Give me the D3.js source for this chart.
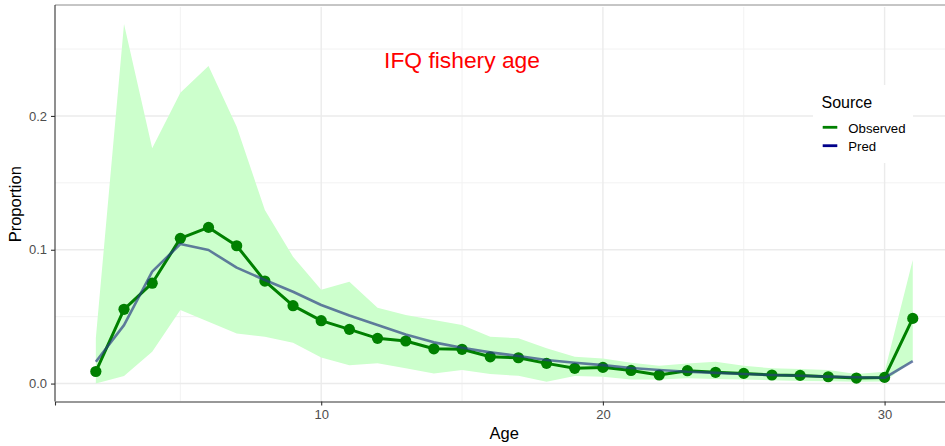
<!DOCTYPE html>
<html>
<head>
<meta charset="utf-8">
<script src="https://cdn.jsdelivr.net/npm/d3@7"></script>
<style>
  html, body { margin: 0; padding: 0; background: #fff; }
  svg { display: block; font-family: "Liberation Sans", Arial, sans-serif; }
</style>
</head>
<body>
<svg id="chart" width="945" height="446"></svg>
<script>
// Age composition, IFQ fishery
const ages = [2,3,4,5,6,7,8,9,10,11,12,13,14,15,16,17,18,19,20,21,22,23,24,25,26,27,28,29,30,31];
const observed = [0.009,0.0555,0.075,0.1085,0.1167,0.103,0.0766,0.0582,0.047,0.0405,0.0338,0.0318,0.026,0.0256,0.020,0.0193,0.0151,0.0114,0.0121,0.0098,0.0064,0.0096,0.0084,0.0076,0.0064,0.0061,0.0051,0.0041,0.0046,0.0487];
const pred = [0.0163,0.0437,0.0836,0.1043,0.0998,0.0866,0.0774,0.0686,0.0587,0.0508,0.0437,0.0366,0.0308,0.0268,0.0233,0.0206,0.0176,0.0156,0.0138,0.0116,0.0101,0.0088,0.0080,0.0072,0.0064,0.0058,0.0052,0.0047,0.0043,0.0168];
const upper = [0.034,0.2687,0.1758,0.2173,0.2373,0.1919,0.1297,0.0948,0.0702,0.0761,0.0566,0.0512,0.0475,0.0437,0.035,0.0338,0.0263,0.020,0.0188,0.0155,0.0133,0.015,0.0163,0.0133,0.0114,0.0108,0.0101,0.0071,0.0088,0.0923];
const lower = [0.000,0.0056,0.0238,0.0549,0.0462,0.0375,0.035,0.0305,0.0194,0.0136,0.0151,0.0114,0.0076,0.0101,0.0071,0.0058,0.0013,0.0056,0.0051,0.0031,0.003,0.0039,0.0035,0.003,0.0025,0.002,0.0018,0.0013,0.0015,0.017];
const xTicks = [10, 20, 30];
const yTicks = [0.0, 0.1, 0.2];
const xMinor = [5, 15, 25];
const yMinor = [0.05, 0.15, 0.25];
const sources = ["Observed", "Pred"];
const title = "IFQ fishery age";

const svg = d3.select("#chart");
const panel = { left: 55, top: 7, right: 953.6, bottom: 401.5 };

const x = d3.scaleLinear().domain([0.55, 32.45]).range([panel.left, panel.right]);
const y = d3.scaleLinear().domain([-0.0134, 0.2814]).range([panel.bottom, panel.top]);

const rows = ages.map((a, i) => ({ age: a, obs: observed[i], pred: pred[i], lo: lower[i], hi: upper[i] }));

svg.append("clipPath").attr("id", "panel-clip")
  .append("rect").attr("x", panel.left).attr("y", panel.top)
  .attr("width", panel.right - panel.left).attr("height", panel.bottom - panel.top);

const g = svg.append("g").attr("clip-path", "url(#panel-clip)");

// grid
g.selectAll(".ymin").data(yMinor).join("line")
  .attr("x1", panel.left).attr("x2", panel.right)
  .attr("y1", d => y(d)).attr("y2", d => y(d))
  .attr("stroke", "#f2f2f2").attr("stroke-width", 1);
g.selectAll(".xmin").data(xMinor).join("line")
  .attr("y1", panel.top).attr("y2", panel.bottom)
  .attr("x1", d => x(d)).attr("x2", d => x(d))
  .attr("stroke", "#f2f2f2").attr("stroke-width", 1);
g.selectAll(".ymaj").data(yTicks).join("line")
  .attr("x1", panel.left).attr("x2", panel.right)
  .attr("y1", d => y(d)).attr("y2", d => y(d))
  .attr("stroke", "#ebebeb").attr("stroke-width", 1.4);
g.selectAll(".xmaj").data(xTicks).join("line")
  .attr("y1", panel.top).attr("y2", panel.bottom)
  .attr("x1", d => x(d)).attr("x2", d => x(d))
  .attr("stroke", "#ebebeb").attr("stroke-width", 1.4);

// confidence ribbon
g.append("path").datum(rows)
  .attr("d", d3.area().x(d => x(d.age)).y0(d => y(d.lo)).y1(d => y(d.hi)))
  .attr("fill", "#ccffcc");

// observed
g.append("path").datum(rows)
  .attr("d", d3.line().x(d => x(d.age)).y(d => y(d.obs)))
  .attr("fill", "none").attr("stroke", "#008000").attr("stroke-width", 3)
  .attr("stroke-linejoin", "round");
g.selectAll(".pt").data(rows).join("circle")
  .attr("cx", d => x(d.age)).attr("cy", d => y(d.obs)).attr("r", 5.6)
  .attr("fill", "#008000");

// predicted
g.append("path").datum(rows)
  .attr("d", d3.line().x(d => x(d.age)).y(d => y(d.pred)))
  .attr("fill", "none").attr("stroke", "rgba(40,60,130,0.68)").attr("stroke-width", 2.6)
  .attr("stroke-linejoin", "round");

// panel border
svg.append("line").attr("x1", panel.left).attr("x2", panel.right)
  .attr("y1", panel.top - 2).attr("y2", panel.top - 2)
  .attr("stroke", "#8c8c8c").attr("stroke-width", 1);

// axes
const xAxis = svg.append("g").attr("transform", `translate(0,${panel.bottom})`)
  .call(d3.axisBottom(x).tickValues(xTicks).tickSize(4).tickPadding(4).tickFormat(d3.format("d")));
const yAxis = svg.append("g").attr("transform", `translate(${panel.left},0)`)
  .call(d3.axisLeft(y).tickValues(yTicks).tickSize(4).tickPadding(4).tickFormat(d3.format(".1f")));
[xAxis, yAxis].forEach(ax => {
  ax.select(".domain").attr("stroke", "#333").attr("stroke-width", 1.1);
  ax.selectAll(".tick line").attr("stroke", "#333").attr("stroke-width", 1.1);
  ax.selectAll(".tick text").attr("fill", "#4d4d4d").attr("font-size", 13)
    .attr("font-family", "'Liberation Sans', Arial, sans-serif");
});
yAxis.select(".domain").attr("d", `M0,${panel.top - 2}V${panel.bottom}`);

// axis titles
svg.append("text").attr("x", (panel.left + panel.right) / 2).attr("y", 439)
  .attr("text-anchor", "middle").attr("font-size", 16.5).attr("fill", "#000").text("Age");
svg.append("text").attr("transform", `translate(20.5,${(panel.top + panel.bottom) / 2}) rotate(-90)`)
  .attr("text-anchor", "middle").attr("font-size", 16.5).attr("fill", "#000").text("Proportion");

// annotation
svg.append("text").attr("x", x(15)).attr("y", 67.5)
  .attr("text-anchor", "middle").attr("font-size", 22.8).attr("fill", "#ff0000").text(title);

// legend
const legendColors = { Observed: "#008000", Pred: "#00008b" };
const lg = svg.append("g");
lg.append("rect").attr("x", 813).attr("y", 85).attr("width", 100).attr("height", 78).attr("fill", "#fff");
lg.append("text").attr("x", 821.5).attr("y", 108.3).attr("font-size", 16).attr("fill", "#000").text("Source");
sources.forEach((s, i) => {
  const yy = 127.3 + i * 18.4;
  lg.append("line").attr("x1", 822.7).attr("x2", 837.3).attr("y1", yy).attr("y2", yy)
    .attr("stroke", legendColors[s]).attr("stroke-width", 2.8);
  lg.append("text").attr("x", 848.3).attr("y", yy + 5.2).attr("font-size", 13.2).attr("fill", "#000").text(s);
});
</script>
</body>
</html>
